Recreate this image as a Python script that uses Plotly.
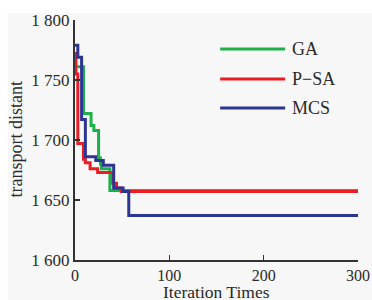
import plotly.graph_objects as go

# Data
ga_x = [0, 9, 17, 20, 25, 27, 28, 37, 300]
ga_y = [1761, 1722, 1712, 1708, 1685, 1680, 1676, 1658, 1658]

psa_x = [0, 1, 3, 9, 11, 16, 24, 40, 44, 49, 300]
psa_y = [1772, 1755, 1697, 1684, 1681, 1676, 1673, 1664, 1660, 1657, 1657]

mcs_x = [0, 3, 7, 11, 22, 30, 41, 51, 57, 300]
mcs_y = [1779, 1769, 1717, 1686, 1683, 1679, 1660, 1657, 1637, 1637]

series_names = ["GA", "P\u2212SA", "MCS"]
x_ticks = [0, 100, 200, 300]
x_tick_labels = ["0", "100", "200", "300"]
y_ticks = [1600, 1650, 1700, 1750, 1800]
y_tick_labels = ["1 600", "1 650", "1 700", "1 750", "1 800"]

colors = ["#1fb04a", "#ec1c24", "#2b3592"]
FONT = "Liberation Serif, Times New Roman, serif"
TXT = "#2a2a2a"

fig = go.Figure()
for name, xs, ys, c in zip(series_names, [ga_x, psa_x, mcs_x], [ga_y, psa_y, mcs_y], colors):
    fig.add_trace(go.Scatter(x=xs, y=ys, name=name, mode="lines",
                             line=dict(color=c, width=3, shape="hv"),
                             showlegend=False, hoverinfo="skip"))

# manual legend (long line samples like the reference)
shapes = [dict(type="rect", xref="paper", yref="paper",
               x0=-0.238, x1=1.06, y0=-0.18, y1=1.029,
               fillcolor="#f7f7f7", line=dict(width=0), layer="below")]
annotations = []
leg_rows = [0.879, 0.754, 0.633]
for name, c, yy in zip(series_names, colors, leg_rows):
    shapes.append(dict(type="line", xref="paper", yref="paper",
                       x0=0.513, x1=0.7425, y0=yy, y1=yy,
                       line=dict(color=c, width=3)))
    annotations.append(dict(text=name, xref="paper", yref="paper",
                            x=0.758, y=yy, xanchor="left", yanchor="middle",
                            showarrow=False,
                            font=dict(family=FONT, size=18, color=TXT)))

annotations.append(dict(text="Iteration Times", xref="paper", yref="paper",
                        x=0.5, y=-0.134, xanchor="center", yanchor="middle",
                        showarrow=False, borderpad=0,
                        font=dict(family=FONT, size=17.5, color=TXT)))
annotations.append(dict(text="transport distant", xref="paper", yref="paper",
                        x=-0.21, y=0.5, xanchor="center", yanchor="middle",
                        textangle=-90, showarrow=False,
                        font=dict(family=FONT, size=18, color=TXT)))

fig.update_layout(
    width=372, height=300,
    margin=dict(l=74.5, r=14, t=20, b=40, autoexpand=False),
    paper_bgcolor="white",
    plot_bgcolor="rgba(0,0,0,0)",
    font=dict(family=FONT, size=17, color=TXT),
    showlegend=False,
    shapes=shapes,
    annotations=annotations,
    xaxis=dict(range=[0, 300], tickvals=x_ticks, ticktext=x_tick_labels,
               showline=True, linecolor="#333", linewidth=2,
               ticks="inside", ticklen=5, tickwidth=1.5, tickcolor="#333",
               showgrid=False, zeroline=False, automargin=False,
               tickfont=dict(family=FONT, size=16, color=TXT)),
    yaxis=dict(range=[1600, 1800], tickvals=y_ticks, ticktext=y_tick_labels,
               showline=True, linecolor="#333", linewidth=2,
               ticks="inside", ticklen=5, tickwidth=1.5, tickcolor="#333",
               showgrid=False, zeroline=False, automargin=False,
               tickfont=dict(family=FONT, size=17, color=TXT)),
)

fig.write_html("out.html", config={"displayModeBar": False, "staticPlot": True},
               post_script="document.body.style.margin='0';document.body.style.padding='0';")
